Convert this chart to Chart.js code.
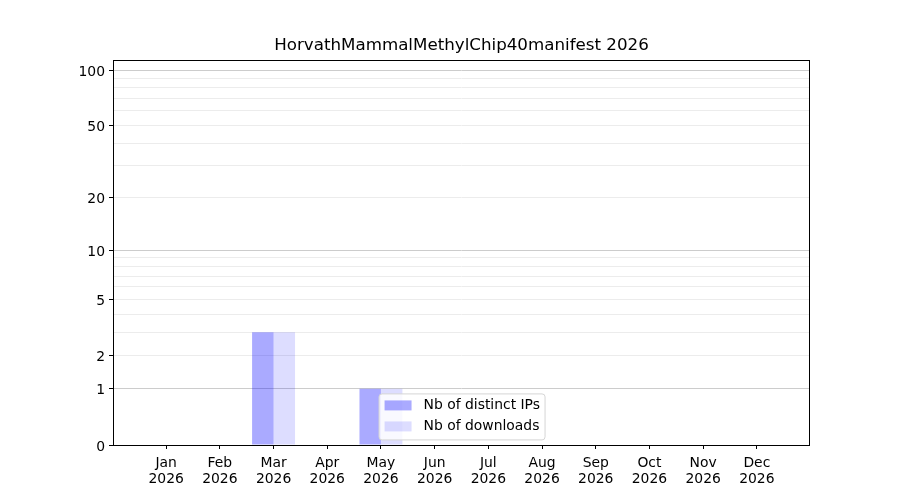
<!DOCTYPE html>
<html>
<head>
<meta charset="utf-8">
<script src="https://cdn.jsdelivr.net/npm/chart.js@4.4.1/dist/chart.umd.min.js"></script>
<style>
  html, body { margin: 0; padding: 0; background: #fff; }
  #wrap { width: 900px; height: 500px; }
</style>
</head>
<body>
<div id="wrap"><canvas id="chart" width="900" height="500"></canvas></div>
<script>
const titleText = 'HorvathMammalMethylChip40manifest 2026';
const months = ['Jan', 'Feb', 'Mar', 'Apr', 'May', 'Jun', 'Jul', 'Aug', 'Sep', 'Oct', 'Nov', 'Dec'];
const yearLabel = '2026';
const distinctIps = [0, 0, 3, 0, 1, 0, 0, 0, 0, 0, 0, 0];
const downloads = [0, 0, 3, 0, 1, 0, 0, 0, 0, 0, 0, 0];
const seriesLabels = ['Nb of distinct IPs', 'Nb of downloads'];
const yGridValues = [0, 1, 2, 3, 4, 5, 6, 7, 8, 9, 10, 20, 30, 40, 50, 60, 70, 80, 90, 100];
const yLabelValues = [0, 1, 2, 5, 10, 20, 50, 100];
const yMajorValues = [1, 10, 100];
const yTopValue = 113.2;

// axis is log10(1 + v), like the original symlog-ish plot
const fwd = (v) => Math.log10(1 + v);
const FONT = 'DejaVu Sans, sans-serif';

const toPoints = (arr) => arr.map((v, i) => ({ x: i, y: fwd(v) }));

const legendAndFrame = {
    id: 'legendAndFrame',
    afterDatasetsDraw(chart) {
        const { ctx, chartArea: a } = chart;
        const w = a.right - a.left, h = a.bottom - a.top;
        ctx.save();

        // frame, all four sides
        ctx.strokeStyle = '#000';
        ctx.lineWidth = 1;
        ctx.strokeRect(Math.round(a.left) + 0.5, Math.round(a.top) + 0.5,
            Math.round(w) - 1, Math.round(h));

        // legend box
        const bx = a.left + 0.381 * w, by = a.top + 0.866 * h;
        const bw = 166, bh = 46;
        ctx.beginPath();
        ctx.roundRect(bx + 0.5, by + 0.5, bw, bh, 3);
        ctx.fillStyle = 'rgba(255,255,255,0.8)';
        ctx.fill();
        ctx.strokeStyle = '#d5d5d5';
        ctx.stroke();

        ctx.font = '13.9px ' + FONT;
        ctx.textBaseline = 'middle';
        ctx.textAlign = 'left';
        chart.data.datasets.forEach((ds, i) => {
            const cy = by + 12 + i * 21;
            ctx.fillStyle = ds.backgroundColor;
            ctx.fillRect(bx + 6, cy - 5, 27, 10);
            ctx.fillStyle = '#000';
            ctx.fillText(ds.label, bx + 45, cy);
        });
        ctx.restore();
    }
};

new Chart(document.getElementById('chart'), {
    type: 'bar',
    data: {
        datasets: [
            { label: seriesLabels[0], data: toPoints(distinctIps), backgroundColor: 'rgba(0, 0, 255, 0.333)', borderWidth: 0 },
            { label: seriesLabels[1], data: toPoints(downloads), backgroundColor: 'rgba(0, 0, 255, 0.133)', borderWidth: 0 }
        ]
    },
    options: {
        responsive: false,
        animation: false,
        devicePixelRatio: 1,
        layout: { padding: { left: 0, right: 90, top: 0, bottom: 0 } },
        categoryPercentage: 0.8,
        barPercentage: 1.0,
        plugins: {
            legend: { display: false },
            tooltip: { enabled: false },
            title: {
                display: true,
                fullSize: false,
                text: titleText,
                color: '#000',
                font: { family: FONT, size: 16.7, weight: 'normal', lineHeight: 1.2 },
                padding: { top: 36, bottom: 4 }
            }
        },
        scales: {
            x: {
                type: 'linear',
                min: -0.99,
                max: 11.99,
                offset: false,
                border: { display: false },
                grid: { display: true, offset: false, drawOnChartArea: false, drawTicks: true, tickLength: 4, tickColor: '#000', tickWidth: 1 },
                afterBuildTicks: (scale) => { scale.ticks = months.map((m, i) => ({ value: i })); },
                afterFit: (scale) => { scale.height = 55; },
                ticks: {
                    autoSkip: false,
                    maxRotation: 0,
                    padding: 7,
                    color: '#000',
                    font: { family: FONT, size: 13.9, lineHeight: 1.1 },
                    callback: (value) => [months[value], yearLabel]
                }
            },
            y: {
                type: 'linear',
                min: 0,
                max: fwd(yTopValue),
                border: { display: false },
                grid: {
                    color: (c) => {
                        const v = yGridValues[c.index];
                        if (v === 0) return 'rgba(0,0,0,0)';
                        return yMajorValues.includes(v) ? '#cccccc' : '#ececec';
                    },
                    lineWidth: 1,
                    drawTicks: true,
                    tickLength: 4,
                    tickWidth: 1,
                    tickColor: (c) => yLabelValues.includes(yGridValues[c.index]) ? '#000' : 'rgba(0,0,0,0)'
                },
                afterBuildTicks: (scale) => { scale.ticks = yGridValues.map((v) => ({ value: fwd(v) })); },
                afterFit: (scale) => { scale.width = 113; },
                ticks: {
                    autoSkip: false,
                    padding: 4,
                    labelOffset: 2,
                    color: '#000',
                    font: { family: FONT, size: 13.9 },
                    callback: (value, index) => {
                        const v = yGridValues[index];
                        return yLabelValues.includes(v) ? String(v) : '';
                    }
                }
            }
        }
    },
    plugins: [legendAndFrame]
});
</script>
</body>
</html>
